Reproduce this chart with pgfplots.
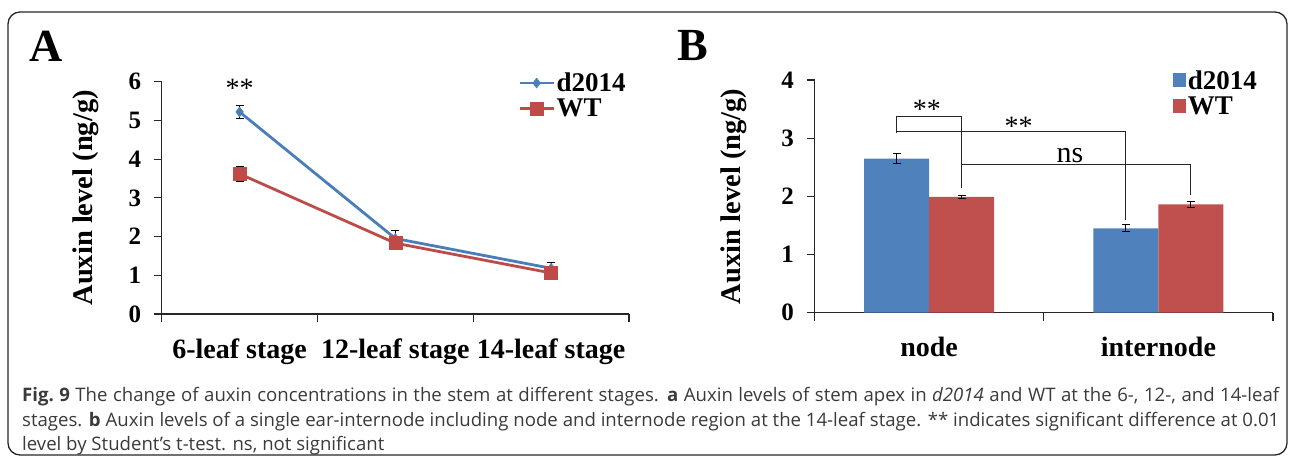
\documentclass[border=0pt]{standalone}
\usepackage{fontspec}
\setmainfont{Liberation Serif}
\newfontfamily\capfont{Open Sans}
\usepackage{pgfplots}
\pgfplotsset{compat=1.18}
\definecolor{lblue}{HTML}{4A7EBB}
\definecolor{lred}{HTML}{BE4B48}
\definecolor{bblue}{HTML}{4F81BD}
\definecolor{bred}{HTML}{C0504D}
\definecolor{capgray}{HTML}{3A3A3A}
\newcommand{\fs}[1]{\fontsize{#1}{#1}\selectfont}
\pgfplotsset{
  common/.style={
    scale only axis,
    axis x line*=bottom, axis y line*=left,
    x axis line style={-, line width=1.1pt, black!85},
    y axis line style={-, line width=1.1pt, black!85},
    tick align=outside, major tick length=8pt,
    tick style={line width=1.1pt, black!85},
    /pgf/number format/assume math mode=true,
    yticklabel style={font=\bfseries\fs{25}, xshift=-9pt},
    xticklabel style={font=\bfseries\fs{28}},
    ylabel style={font=\bfseries\fs{28.5}},
    clip=false,
    legend cell align=left,
  },
}
\begin{document}
\begin{tikzpicture}[x=1pt,y=1pt]
\useasboundingbox (0,0) rectangle (1290,459);
\draw[line width=1.3pt, black!85, rounded corners=12pt] (8,4) rectangle (1287,447);
\node[font=\bfseries\fs{46}] at (46,413) {A};
\node[font=\bfseries\fs{46}] at (693,413) {B};

% Panel A
\begin{axis}[common,
  width=467.3pt, height=232.3pt,
  at={(161.7pt,145pt)}, anchor=south west,
  xmin=0.5, xmax=3.5, ymin=0, ymax=6,
  ytick={0,1,2,3,4,5,6},
  xtick={0.5,1.5,2.5,3.5}, xticklabels={,,,},
  extra x ticks={1,2,3},
  extra x tick labels={6-leaf stage,12-leaf stage,14-leaf stage},
  extra x tick style={major tick length=0pt, xticklabel style={yshift=-21pt}},
  ylabel={Auxin level (ng/g)},
  ylabel style={at={(axis description cs:-0.162,0.5)}, anchor=center},
  legend style={draw=none, fill=none, at={(0.7625,1.045)}, anchor=north west,
    font=\bfseries\fs{27}, inner sep=0pt, row sep=3pt,
    nodes={inner sep=1.5pt}},
  legend image code/.code={\draw[mark repeat=2,mark phase=2,#1]
    plot coordinates {(0pt,0pt) (17pt,0pt) (34pt,0pt)};},
]
\addplot[lblue, line width=2.8pt, mark=diamond*, mark size=5pt,
  mark options={fill=lblue, draw=lblue, line width=0.5pt},
  error bars/.cd, y dir=both, y explicit,
  error bar style={black, line width=1pt},
  error mark options={rotate=90, mark size=4pt, black, line width=1pt}]
  coordinates {(1,5.22) +- (0,0.17) (2,1.95) +- (0,0.2) (3,1.18) +- (0,0.15)};
\addlegendentry{d2014}
\addplot[lred, line width=2.8pt, mark=square*, mark size=6.5pt,
  mark options={fill=lred, draw=lred, line width=0.5pt},
  error bars/.cd, y dir=both, y explicit,
  error bar style={black, line width=1pt},
  error mark options={rotate=90, mark size=4pt, black, line width=1pt}]
  coordinates {(1,3.62) +- (0,0.2) (2,1.83) +- (0,0.17) (3,1.06) +- (0,0.1)};
\addlegendentry{WT}
\node[font=\fs{28}] at (axis cs:1,5.83) {**};
\end{axis}

% Panel B
\begin{axis}[common,
  width=458.5pt, height=232.7pt,
  at={(814.5pt,146.3pt)}, anchor=south west,
  xmin=0.5, xmax=2.5, ymin=0, ymax=4,
  ytick={0,1,2,3,4},
  xtick={0.5,1.5,2.5}, xticklabels={,,},
  extra x ticks={1,2},
  extra x tick labels={node,internode},
  extra x tick style={major tick length=0pt, xticklabel style={yshift=-21pt}},
  ybar=0pt, bar width=65pt,
  ylabel={Auxin level (ng/g)},
  ylabel style={at={(axis description cs:-0.176,0.5)}, anchor=center},
  legend style={draw=none, fill=none, at={(0.782,1.049)}, anchor=north west,
    font=\bfseries\fs{27}, inner sep=0pt, row sep=3pt,
    nodes={inner sep=1.5pt}},
  legend image code/.code={\fill[#1] (0pt,-7pt) rectangle (13pt,7pt);},
]
\addplot[fill=bblue, draw=none,
  error bars/.cd, y dir=both, y explicit,
  error bar style={black, line width=1pt},
  error mark options={rotate=90, mark size=4pt, black, line width=1pt}]
  coordinates {(1,2.65) +- (0,0.08) (2,1.45) +- (0,0.06)};
\addlegendentry{d2014}
\addplot[fill=bred, draw=none,
  error bars/.cd, y dir=both, y explicit,
  error bar style={black, line width=1pt},
  error mark options={rotate=90, mark size=4pt, black, line width=1pt}]
  coordinates {(1,1.99) +- (0,0.03) (2,1.86) +- (0,0.05)};
\addlegendentry{WT}
\draw[line width=1pt, black!85] (axis cs:0.858,3.09) -- (axis cs:0.858,3.38) -- (axis cs:1.142,3.38) -- (axis cs:1.142,2.14);
\draw[line width=1pt, black!85] (axis cs:0.858,3.11) -- (axis cs:1.858,3.11) -- (axis cs:1.858,1.59);
\draw[line width=1pt, black!85] (axis cs:1.142,2.54) -- (axis cs:2.142,2.54) -- (axis cs:2.142,2.03);
\node[font=\fs{28}] at (axis cs:0.99,3.5) {**};
\node[font=\fs{28}] at (axis cs:1.39,3.21) {**};
\node[font=\fs{30}] at (axis cs:1.614,2.70) {ns};
\end{axis}

% caption
\begin{scope}[every node/.style={anchor=base west, inner sep=0pt, text=capgray, font=\capfont\fs{18.6}}]
\node at (22,58) {\makebox[1257pt][s]{\textbf{Fig.~9} The change of auxin concentrations in the stem at different stages. \textbf{a} Auxin levels of stem apex in \textit{d2014} and WT at the 6-, 12-, and 14-leaf}};
\node at (22,33) {\makebox[1257pt][s]{stages. \textbf{b} Auxin levels of a single ear-internode including node and internode region at the 14-leaf stage. ** indicates significant difference at 0.01}};
\node at (22,8.5) {level by Student’s t-test. ns, not significant};
\end{scope}
\end{tikzpicture}
\end{document}
